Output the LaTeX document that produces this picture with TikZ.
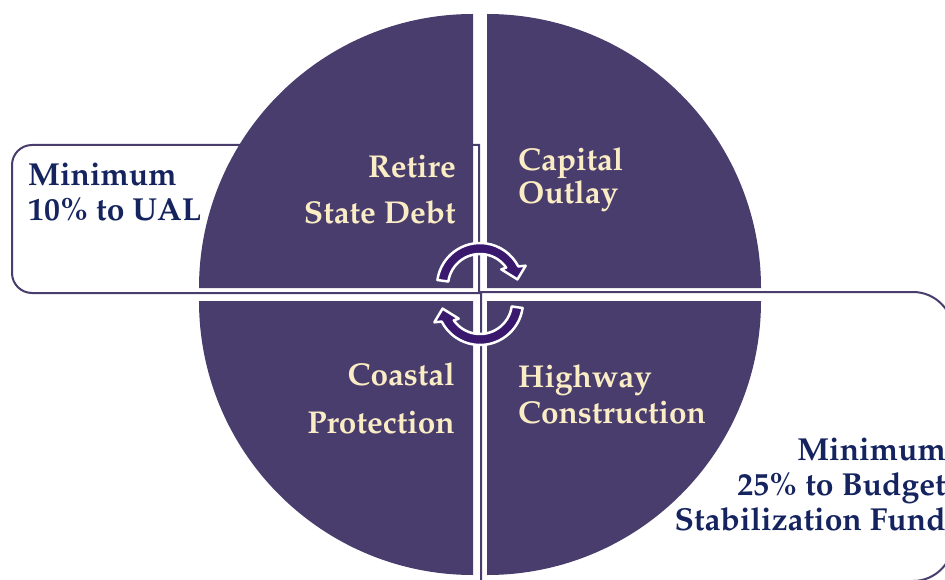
\documentclass[tikz,border=0pt]{standalone}
\usepackage[T1]{fontenc}
\usepackage{mathpazo}
\definecolor{pie}{RGB}{72,61,108}
\definecolor{cream}{RGB}{250,236,196}
\definecolor{navy}{RGB}{21,36,94}
\definecolor{turn}{RGB}{58,24,110}
\tikzset{
  callout/.style={draw=pie, line width=2pt, fill=white},
  slice/.style={fill=pie},
  cycle arrow/.style={fill=turn, draw=white, line width=2.5pt, line join=round},
  slicetext/.style={text=cream, inner sep=0pt, font=\bfseries\fontsize{31.6}{#1}\selectfont},
  calltext/.style={text=navy, inner sep=0pt, font=\bfseries\fontsize{31.8}{35}\selectfont},
}

\begin{document}
\begin{tikzpicture}[x=1pt, y=-1pt]
  \useasboundingbox (0,0) rectangle (945,580);
  \clip (0,0) rectangle (945,580);

  % Callouts
  \draw[callout] (479,145) -- (32,145) arc[start angle=270, end angle=180, radius=20]
    -- (12,273) arc[start angle=180, end angle=90, radius=20] -- (479,293) -- cycle;
  \draw[callout] (481,292) -- (913,292) arc[start angle=270, end angle=360, radius=40]
    -- (953,541) arc[start angle=0, end angle=90, radius=40] -- (481,581) -- cycle;

  % Slices
  \foreach \cx/\cy/\a in {473/288/180, 487/288/270, 473/301/90, 487/301/0}{
    \fill[slice] (\cx,\cy) -- ++(\a:274) arc[start angle=\a, delta angle=90, radius=274] -- cycle;
  }

  % Cycle arrows
  \foreach \r in {0,180}{
    \begin{scope}[rotate around={\r:(480,294)}, shift={(480,286)}]
      \filldraw[cycle arrow] (188:43) arc[start angle=188, end angle=333, radius=43]
        -- (336:50) -- (350:38) -- (322:27) -- (325:32)
        arc[start angle=325, end angle=188, radius=32] -- cycle;
    \end{scope}
  }

  % Texts
  \node[slicetext=46, anchor=north east, align=right] (debt) at (456,155) {Retire\\State Debt};
  \node[slicetext=33, anchor=north west, align=left] (outlay) at (518,147) {Capital\\Outlay};
  \node[slicetext=48, anchor=north east, align=right] (coastal) at (455,362) {Coastal\\Protection};
  \node[slicetext=36, anchor=north west, align=left] (highway) at (518,364) {Highway\\Construction};
  \node[calltext, anchor=north west, align=left] (ual) at (28,163) {Minimum\\10\% to UAL};
  \node[calltext, anchor=north east, align=right] (bsf) at (946,438) {Minimum\\25\% to Budget\\Stabilization Fund};
\end{tikzpicture}
\end{document}
